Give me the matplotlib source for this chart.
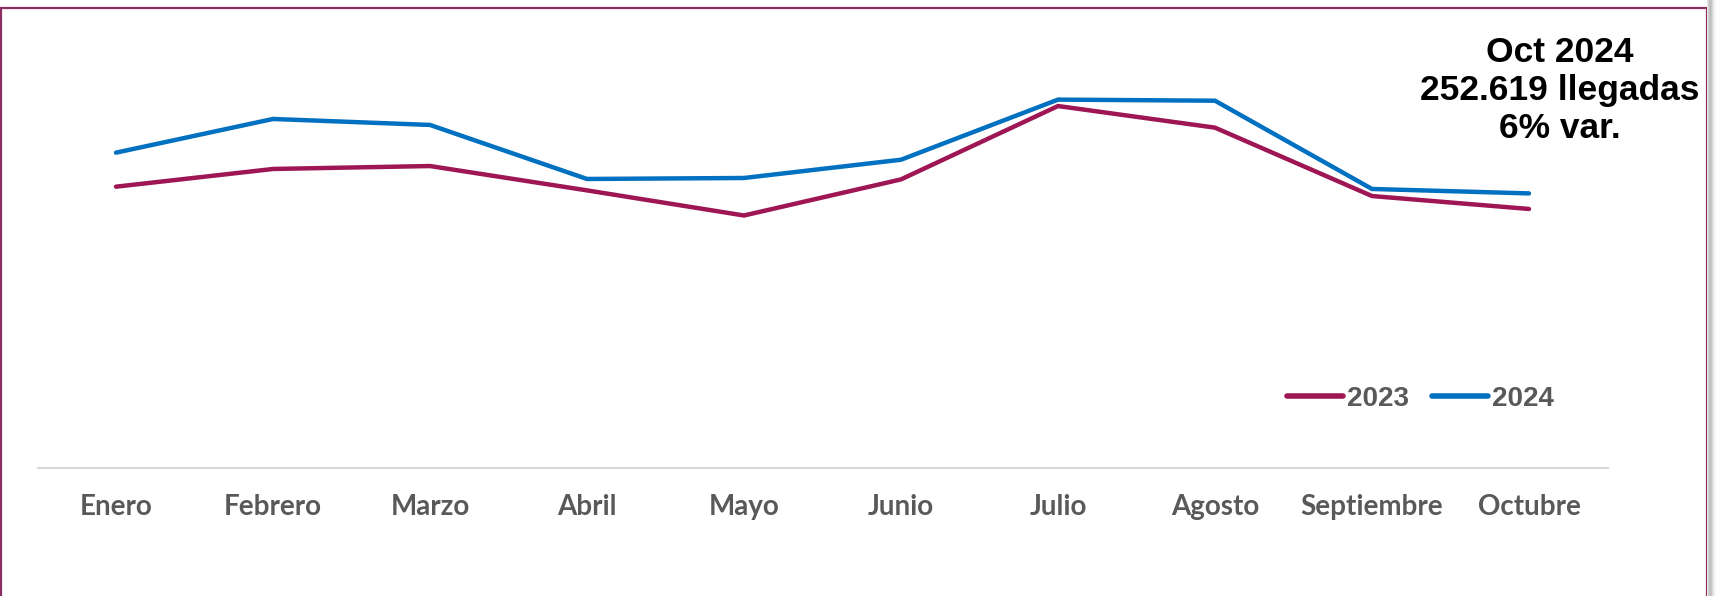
import matplotlib
matplotlib.use("Agg")
import matplotlib.pyplot as plt
from matplotlib.patches import Rectangle

meses = ["Enero", "Febrero", "Marzo", "Abril", "Mayo", "Junio",
         "Julio", "Agosto", "Septiembre", "Octubre"]
llegadas_2023 = [258800, 275100, 277800, 255400, 232300, 265500,
                 333000, 313100, 250200, 238300]
llegadas_2024 = [290100, 321100, 315600, 265900, 266800, 283600,
                 338900, 337900, 256700, 252619]
nota = ["Oct 2024", "252.619 llegadas", "6% var."]

W, H = 1716, 596
fig = plt.figure(figsize=(W / 100, H / 100), dpi=100)
ax = fig.add_axes([37.5 / W, (H - 468) / H, 1570 / W, 434.8 / H])

x = range(len(meses))
ax.plot(x, llegadas_2023, color="#9E1653", lw=3.2, solid_capstyle="round",
        solid_joinstyle="miter", label="2023")
ax.plot(x, llegadas_2024, color="#0070C0", lw=3.2, solid_capstyle="round",
        solid_joinstyle="miter", label="2024")

ax.set_xlim(-0.5, len(meses) - 0.5)
ax.set_ylim(0, 400000)
ax.set_yticks([])
ax.set_xticks(list(x))
ax.set_xticklabels(meses, fontsize=20, fontweight="bold", color="#595959",
                   family="Lato")
ax.tick_params(axis="x", length=0, pad=19)
for s in ["top", "left", "right"]:
    ax.spines[s].set_visible(False)
ax.spines["bottom"].set_color("#D9D9D9")
ax.spines["bottom"].set_linewidth(1.6)

leg = fig.legend(loc="center left", bbox_to_anchor=(1287 / W, 1 - 399 / H),
                 ncol=2, frameon=False, borderpad=0, borderaxespad=0,
                 handlelength=2.0, handletextpad=0.15, columnspacing=0.85,
                 prop={"family": "Liberation Sans", "weight": "bold",
                       "size": 20})
for t in leg.get_texts():
    t.set_color("#595959")
for l in leg.get_lines():
    l.set_linewidth(4.0)

bases = [62, 100, 138]
for linea, yb in zip(nota, bases):
    fig.text(1560 / W, 1 - yb / H, linea, ha="center", va="baseline",
             fontsize=25.5, fontweight="bold", color="black",
             family="Liberation Sans")

# marco de la diapositiva
fig.add_artist(Rectangle((0.6 / W, -0.05), 1706 / W, 1.05 - 8 / H,
                         transform=fig.transFigure, fill=False,
                         edgecolor="#8B2F62", lw=1.6))
for i, g in enumerate(["#e6e6e6", "#d2d2d2", "#c4c4c4", "#bdbdbd", "#c8c8c8",
                       "#d8d8d8", "#e8e8e8", "#f2f2f2", "#f8f8f8"]):
    fig.add_artist(Rectangle(((1707 + i) / W, 0), 1 / W, 1,
                             transform=fig.transFigure, color=g, lw=0))

fig.savefig("out.png", dpi=100, facecolor="white")
